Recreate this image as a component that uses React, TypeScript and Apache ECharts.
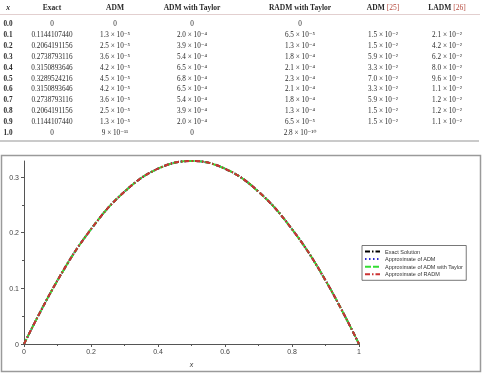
import React, { useEffect, useRef } from "react";
import * as echarts from "echarts";

// ---- Data ----
const xLabels = ["0.0", "0.1", "0.2", "0.3", "0.4", "0.5", "0.6", "0.7", "0.8", "0.9", "1.0"];
const xValues = [0, 0.1, 0.2, 0.3, 0.4, 0.5, 0.6, 0.7, 0.8, 0.9, 1.0];
const exactValues = [0, 0.114410744, 0.2064191156, 0.2738793116, 0.3150893646, 0.3289524216, 0.3150893646, 0.2738793116, 0.2064191156, 0.114410744, 0];
const exactText = ["0", "0.1144107440", "0.2064191156", "0.2738793116", "0.3150893646", "0.3289524216", "0.3150893646", "0.2738793116", "0.2064191156", "0.1144107440", "0"];
const admErr = ["0", "1.3 × 10⁻⁵", "2.5 × 10⁻⁵", "3.6 × 10⁻⁵", "4.2 × 10⁻⁵", "4.5 × 10⁻⁵", "4.2 × 10⁻⁵", "3.6 × 10⁻⁵", "2.5 × 10⁻⁵", "1.3 × 10⁻⁵", "9 × 10⁻¹¹"];
const taylorErr = ["0", "2.0 × 10⁻⁴", "3.9 × 10⁻⁴", "5.4 × 10⁻⁴", "6.5 × 10⁻⁴", "6.8 × 10⁻⁴", "6.5 × 10⁻⁴", "5.4 × 10⁻⁴", "3.9 × 10⁻⁴", "2.0 × 10⁻⁴", "0"];
const radmErr = ["0", "6.5 × 10⁻⁵", "1.3 × 10⁻⁴", "1.8 × 10⁻⁴", "2.1 × 10⁻⁴", "2.3 × 10⁻⁴", "2.1 × 10⁻⁴", "1.8 × 10⁻⁴", "1.3 × 10⁻⁴", "6.5 × 10⁻⁵", "2.8 × 10⁻¹⁰"];
const adm25Err = ["", "1.5 × 10⁻²", "1.5 × 10⁻²", "5.9 × 10⁻²", "3.3 × 10⁻²", "7.0 × 10⁻²", "3.3 × 10⁻²", "5.9 × 10⁻²", "1.5 × 10⁻²", "1.5 × 10⁻²", ""];
const ladm26Err = ["", "2.1 × 10⁻²", "4.2 × 10⁻²", "6.2 × 10⁻²", "8.0 × 10⁻²", "9.6 × 10⁻²", "1.1 × 10⁻²", "1.2 × 10⁻²", "1.2 × 10⁻²", "1.1 × 10⁻²", ""];
const seriesNames = ["Exact Solution", "Approximate of ADM", "Approximate of ADM with Taylor", "Approximate of RADM"];
const yTicks = [0, 0.1, 0.2, 0.3];

const SERIF = "'Liberation Serif', 'DejaVu Serif', serif";
const SANS = "'Liberation Sans', Arial, sans-serif";

function buildTable(): any[] {
  const els: any[] = [];
  const colX = [8, 52, 115, 192, 300, 383, 447];
  const headerY = 7;
  const row0 = 24;
  const rowH = 10.9;
  const txt = (x: number, y: number, text: string, font: string, extra: any = {}) => ({
    type: "text",
    x,
    y,
    silent: true,
    style: { text, font, fill: "#2a2a2a", align: "center", verticalAlign: "middle", ...extra },
  });
  const hFont = `bold 7.5px ${SERIF}`;
  els.push(txt(colX[0], headerY, "x", `italic bold 7.5px ${SERIF}`));
  els.push(txt(colX[1], headerY, "Exact", hFont));
  els.push(txt(colX[2], headerY, "ADM", hFont));
  els.push(txt(colX[3], headerY, "ADM with Taylor", hFont));
  els.push(txt(colX[4], headerY, "RADM with Taylor", hFont));
  els.push(
    txt(colX[5], headerY, "{b|ADM} {r|[25]}", hFont, {
      rich: { b: { font: hFont, fill: "#2a2a2a" }, r: { font: `7.5px ${SERIF}`, fill: "#b5473a" } },
    })
  );
  els.push(
    txt(colX[6], headerY, "{b|LADM} {r|[26]}", hFont, {
      rich: { b: { font: hFont, fill: "#2a2a2a" }, r: { font: `7.5px ${SERIF}`, fill: "#b5473a" } },
    })
  );
  els.push({ type: "line", silent: true, shape: { x1: 0, y1: 14.5, x2: 480, y2: 14.5 }, style: { stroke: "#e2cfcf", lineWidth: 1 } });
  const vFont = `7.2px ${SERIF}`;
  for (let i = 0; i < xLabels.length; i++) {
    const y = row0 + i * rowH;
    els.push(txt(colX[0], y, xLabels[i], `bold 7.2px ${SERIF}`));
    els.push(txt(colX[1], y, exactText[i], vFont));
    els.push(txt(colX[2], y, admErr[i], vFont));
    els.push(txt(colX[3], y, taylorErr[i], vFont));
    els.push(txt(colX[4], y, radmErr[i], vFont));
    if (adm25Err[i]) els.push(txt(colX[5], y, adm25Err[i], vFont));
    if (ladm26Err[i]) els.push(txt(colX[6], y, ladm26Err[i], vFont));
  }
  els.push({ type: "line", silent: true, shape: { x1: 0, y1: 141, x2: 479, y2: 141 }, style: { stroke: "#b8b8b8", lineWidth: 1.4 } });
  // chart frame
  els.push({ type: "rect", silent: true, z: -1, shape: { x: 1.5, y: 155.5, width: 479, height: 216 }, style: { fill: "#fff", stroke: "#9a9a9a", lineWidth: 1.5 } });
  return els;
}

export default function App() {
  const ref = useRef<HTMLDivElement>(null);
  useEffect(() => {
    if (!ref.current) return;
    const chart = echarts.init(ref.current, null, { renderer: "svg" });
    const pts = xValues.map((x, i) => [x, exactValues[i]]);
    const styles = [
      { color: "#000000", type: [5, 2, 1.5, 2], width: 2 },
      { color: "#2a2ad0", type: [1.5, 2.5], width: 2 },
      { color: "#33dd33", type: [6, 2], width: 2 },
      { color: "#cc3333", type: [5, 2, 1.5, 2], width: 2 },
    ];
    chart.setOption({
      animation: false,
      backgroundColor: "#fff",
      graphic: buildTable(),
      grid: { left: 24, right: 125, top: 161, bottom: 25, containLabel: false },
      xAxis: {
        type: "value",
        min: 0,
        max: 1,
        interval: 0.2,
        name: "x",
        nameLocation: "middle",
        nameGap: 17,
        nameTextStyle: { fontStyle: "italic", fontSize: 7, fontFamily: SANS, color: "#333" },
        axisLine: { lineStyle: { color: "#555", width: 1 } },
        axisTick: { show: true, length: 3, lineStyle: { color: "#555" } },
        minorTick: { show: true, splitNumber: 2, length: 2, lineStyle: { color: "#555" } },
        splitLine: { show: false },
        axisLabel: {
          fontSize: 7,
          fontFamily: SANS,
          color: "#444",
          margin: 4,
          formatter: (v: number) => String(Math.round(v * 10) / 10),
        },
      },
      yAxis: {
        type: "value",
        min: 0,
        max: exactValues[5],
        interval: 0.1,
        axisLine: { show: true, lineStyle: { color: "#555", width: 1 } },
        axisTick: { show: true, length: 3, lineStyle: { color: "#555" }, customValues: yTicks },
        minorTick: { show: true, splitNumber: 2, length: 2, lineStyle: { color: "#555" } },
        splitLine: { show: false },
        axisLabel: {
          fontSize: 7,
          fontFamily: SANS,
          color: "#444",
          margin: 5,
          customValues: yTicks,
          formatter: (v: number) => String(Math.round(v * 10) / 10),
        },
      },
      legend: {
        show: true,
        orient: "vertical",
        left: 362,
        top: 245.5,
        padding: [3, 3, 3, 2],
        itemWidth: 15,
        itemHeight: 6,
        itemGap: 1.6,
        borderColor: "#555",
        borderWidth: 0.8,
        borderRadius: 0,
        backgroundColor: "#fff",
        data: seriesNames,
        itemStyle: { opacity: 0 },
        textStyle: { fontSize: 5.5, lineHeight: 6, fontFamily: SANS, color: "#333" },
      },
      series: seriesNames.map((name, i) => ({
        name,
        type: "line",
        data: pts,
        smooth: 0.4,
        symbol: "none",
        showSymbol: false,
        lineStyle: styles[i],
        itemStyle: { color: styles[i].color },
        z: 2 + i,
      })),
    });
    return () => chart.dispose();
  }, []);
  return (
    <div
      ref={ref}
      style={{ position: "fixed", left: 0, top: 0, width: 484, height: 373, willChange: "transform" }}
    />
  );
}
